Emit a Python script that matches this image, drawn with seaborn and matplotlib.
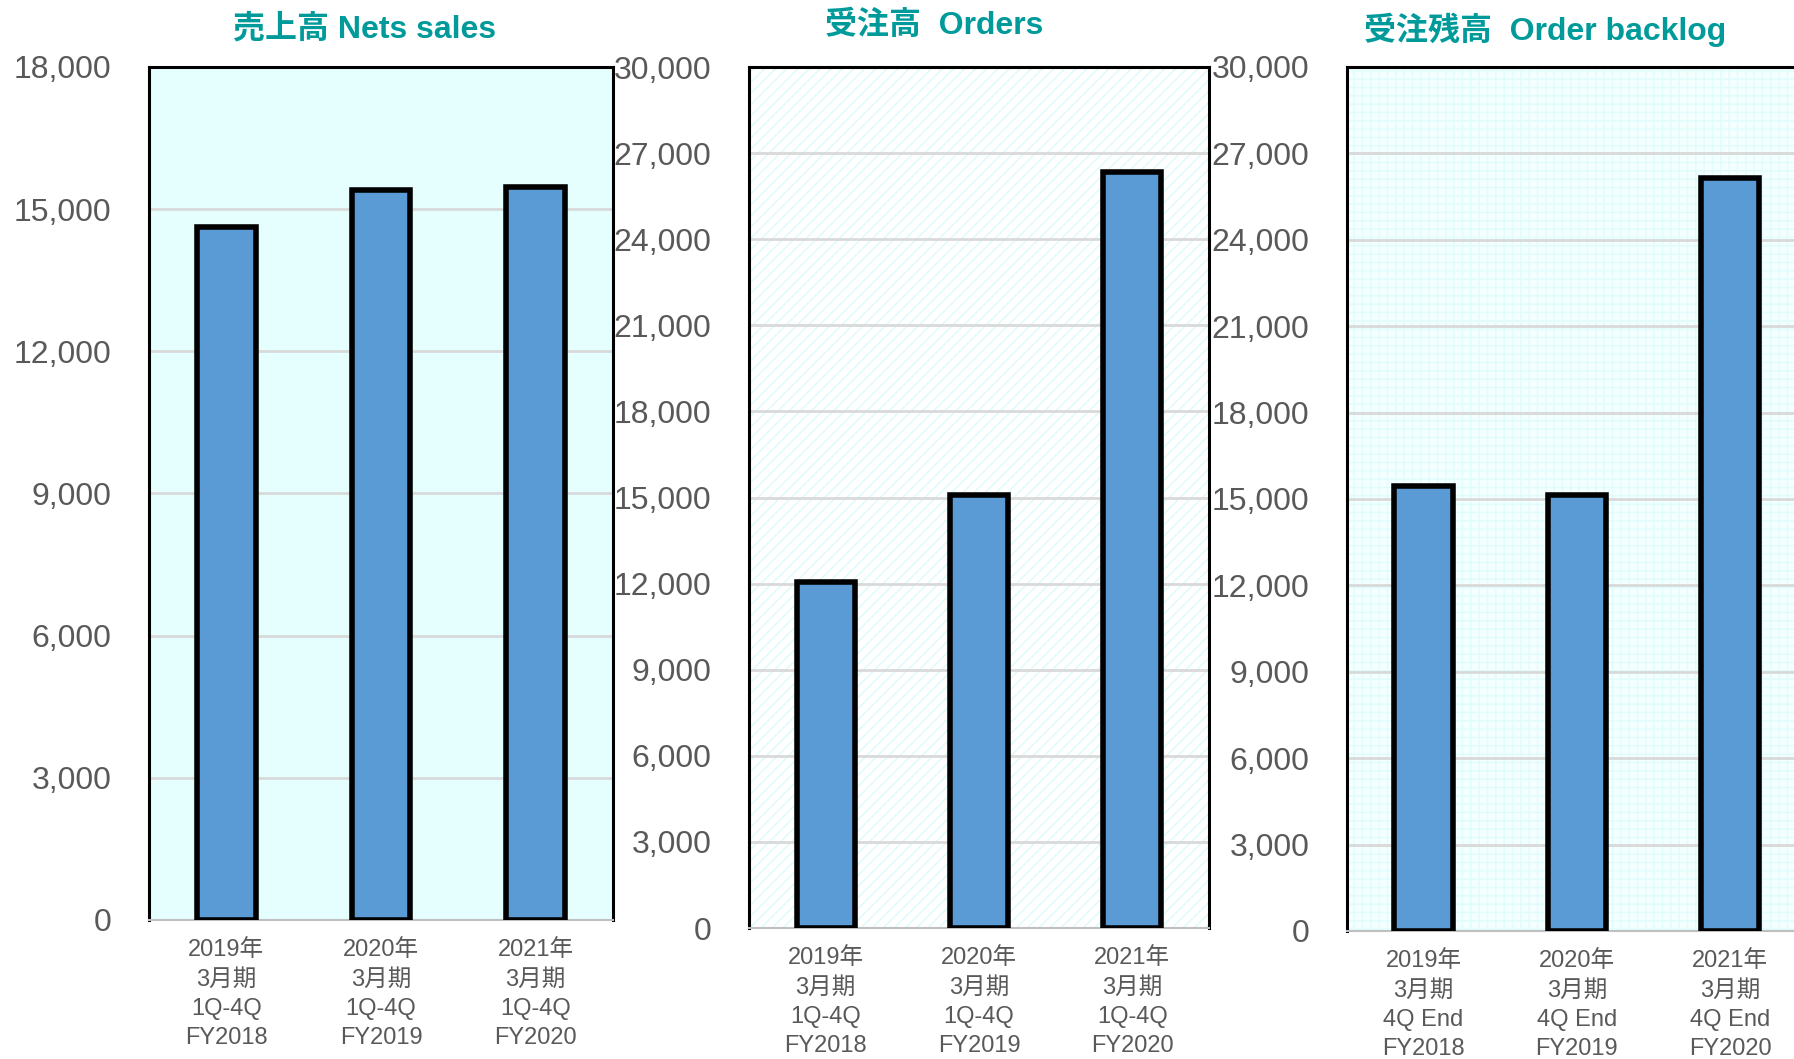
import numpy as np
import pandas as pd
import matplotlib
matplotlib.use("Agg")
import matplotlib.pyplot as plt
from matplotlib.patches import Rectangle
import seaborn as sns

# data
sales_labels = ["2019年\n3月期\n1Q-4Q\nFY2018", "2020年\n3月期\n1Q-4Q\nFY2019", "2021年\n3月期\n1Q-4Q\nFY2020"]
backlog_labels = ["2019年\n3月期\n4Q End\nFY2018", "2020年\n3月期\n4Q End\nFY2019", "2021年\n3月期\n4Q End\nFY2020"]
net_sales = [14620, 15410, 15470]
orders = [12060, 15100, 26340]
order_backlog = [15450, 15150, 26150]

titles = ["売上高 Nets sales", "受注高  Orders", "受注残高  Order backlog"]

sns.set_theme(style="white")
plt.rcParams['font.family'] = ['Liberation Sans', 'Noto Sans CJK JP', 'DejaVu Sans']
plt.rcParams['axes.unicode_minus'] = False

BAR = "#5B9BD5"
TEAL = "#009A9A"
GRAY_TXT = "#595959"
GRID = "#D9D9D9"


def draw_panel(ax, labels, values, ymax, bg):
    df = pd.DataFrame({"cat": labels, "val": values})
    # background
    ax.set_facecolor("white")
    if bg == "plain":
        ax.set_facecolor("#E5FFFF")
    elif bg == "diag":
        ax.add_patch(Rectangle((0, 0), 1, 1, transform=ax.transAxes, facecolor="white",
                               edgecolor="#DCFAFA", hatch="///", lw=0, zorder=0))
    else:
        ax.add_patch(Rectangle((0, 0), 1, 1, transform=ax.transAxes, facecolor="#F4FFFF",
                               edgecolor="#E0FCFC", hatch="++", lw=0, zorder=0))

    sns.barplot(data=df, x="cat", y="val", order=labels, color=BAR, saturation=1,
                edgecolor="black", linewidth=4, width=0.38, ax=ax, zorder=3)

    ax.set_xlim(-0.5, 2.5)
    ax.set_ylim(0, ymax)
    ax.set_yticks(np.arange(0, ymax + 1, 3000))
    ax.set_yticklabels([f"{int(v):,}" for v in np.arange(0, ymax + 1, 3000)])
    ax.yaxis.grid(True, color=GRID, lw=2, zorder=1)
    ax.set_axisbelow(True)
    ax.set_xlabel("")
    ax.set_ylabel("")

    ax.tick_params(axis="y", length=0, pad=27, labelsize=23, labelcolor=GRAY_TXT)
    ax.tick_params(axis="x", which="major", length=0, pad=14, labelsize=17, labelcolor=GRAY_TXT)
    ax.set_xticks([-0.5, 0.5, 1.5, 2.5], minor=True)
    ax.tick_params(axis="x", which="minor", length=7, width=1.5, color="#BFBFBF", direction="out")
    for lbl in ax.get_xticklabels():
        lbl.set_linespacing(1.42)

    for side in ["left", "top", "right"]:
        ax.spines[side].set_visible(True)
        ax.spines[side].set_color("black")
        ax.spines[side].set_linewidth(2.2)
    ax.spines["bottom"].set_visible(True)
    ax.spines["bottom"].set_color("#BFBFBF")
    ax.spines["bottom"].set_linewidth(1.5)


fig = plt.figure(figsize=(17.94, 10.59), dpi=100)
ax1 = fig.add_axes([0.0831, 0.1313, 0.2586, 0.8055])
ax2 = fig.add_axes([0.4175, 0.1237, 0.2564, 0.8130])
ax3 = fig.add_axes([0.7508, 0.1209, 0.2564, 0.8159])

draw_panel(ax1, sales_labels, net_sales, 18000, "plain")
draw_panel(ax2, sales_labels, orders, 30000, "diag")
draw_panel(ax3, backlog_labels, order_backlog, 30000, "check")

fig.text(365 / 1794, 1 - 29 / 1059, titles[0], ha="center", va="center",
         fontsize=23, fontweight="bold", color=TEAL)
fig.text(934 / 1794, 1 - 26 / 1059, titles[1], ha="center", va="center",
         fontsize=23, fontweight="bold", color=TEAL)
fig.text(1545 / 1794, 1 - 30 / 1059, titles[2], ha="center", va="center",
         fontsize=23, fontweight="bold", color=TEAL)

fig.savefig("out.png", dpi=100, facecolor="white")
